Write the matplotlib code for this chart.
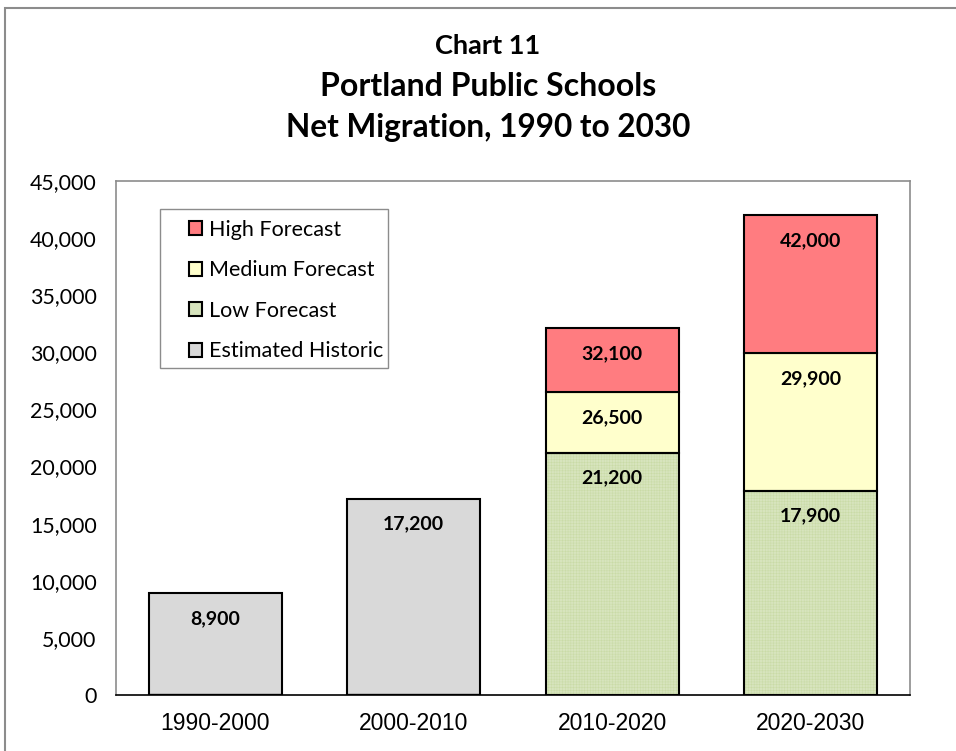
import matplotlib
matplotlib.use("Agg")
import matplotlib.pyplot as plt
from matplotlib.patches import Rectangle, Patch
import numpy as np

categories = ["1990-2000", "2000-2010", "2010-2020", "2020-2030"]
historic = [8900, 17200, 0, 0]
low_total = [0, 0, 21200, 17900]
medium_total = [0, 0, 26500, 29900]
high_total = [0, 0, 32100, 42000]
series_names = ["High Forecast", "Medium Forecast", "Low Forecast", "Estimated Historic"]
yticks = [0, 5000, 10000, 15000, 20000, 25000, 30000, 35000, 40000, 45000]

c_hist = "#D9D9D9"
c_low = "#D7E4BD"
c_med = "#FFFFCC"
c_high = "#FF7C80"

plt.rcParams['hatch.linewidth'] = 0.35

fig = plt.figure(figsize=(9.56, 7.51), dpi=100)
L, R, T, B = 116, 910, 181, 695
ax = fig.add_axes([L/956, 1-B/751, (R-L)/956, (B-T)/751])

x = np.arange(len(categories))
w = 0.67
low = np.array(low_total)
med = np.array(medium_total) - low
high = np.array(high_total) - np.array(medium_total)

ax.bar(x, historic, w, color=c_hist, edgecolor="black", linewidth=1.5, zorder=3)
# low forecast: fill with subtle texture, then black outline
ax.bar(x, low, w, color=c_low, edgecolor="#C9DBA6", hatch="++++++", linewidth=0, zorder=3)
ax.bar(x, low, w, fill=False, edgecolor="black", linewidth=1.5, zorder=3.5)
ax.bar(x, med, w, bottom=low, color=c_med, edgecolor="black", linewidth=1.5, zorder=3)
ax.bar(x, high, w, bottom=low + med, color=c_high, edgecolor="black", linewidth=1.5, zorder=3)

lab_font = dict(family="Lato", fontweight="bold", fontsize=14)

def label(xi, top, val):
    if val > 0:
        ax.annotate(f"{val:,}", (xi, top), xytext=(0, -18), textcoords="offset points",
                    ha="center", va="center", **lab_font, zorder=5)

for i in range(len(categories)):
    label(x[i], historic[i], historic[i])
    label(x[i], low_total[i], low_total[i])
    label(x[i], medium_total[i], medium_total[i])
    label(x[i], high_total[i], high_total[i])

ax.set_xlim(-0.5, 3.5)
ax.set_ylim(0, 45000)
ax.set_yticks(yticks)
ax.set_yticklabels([f"{v:,}" for v in yticks], family="Lato", fontsize=15.4)
ax.set_xticks(x)
ax.set_xticklabels(categories, family="Liberation Sans", fontsize=16.5)
ax.tick_params(axis="y", length=0, pad=14)
ax.tick_params(axis="x", length=0, pad=12)
for s in ["top", "right", "left"]:
    ax.spines[s].set_color("#8C8C8C")
    ax.spines[s].set_linewidth(1.2)
ax.spines["bottom"].set_color("black")
ax.spines["bottom"].set_linewidth(1.2)

# legend box drawn separately (pixel positions)
def px2ax(px, py):
    return ((px - L) / (R - L), (B - py) / (B - T))
x0, y0 = px2ax(160, 368)
x1, y1 = px2ax(388, 209)
ax.add_patch(Rectangle((x0, y0), x1 - x0, y1 - y0, transform=ax.transAxes, fill=True,
                       facecolor="white", edgecolor="#8C8C8C", linewidth=1.0, zorder=4))
handles = [Patch(facecolor=c, edgecolor="black", linewidth=1.5) for c in [c_high, c_med, c_low, c_hist]]
lx, ly = px2ax(189, 220)
leg = ax.legend(handles, series_names, loc="upper left", bbox_to_anchor=(lx, ly),
                frameon=False, prop=dict(family="Lato", size=15.5),
                handlelength=0.62, handleheight=0.62, handletextpad=0.3, labelspacing=0.95,
                borderpad=0, borderaxespad=0)
leg.set_zorder(6)

cx = 488 / 956
fig.text(cx, 1-46/751, "Chart 11", ha="center", va="center", family="Lato", fontweight="bold", fontsize=19.5)
fig.text(cx, 1-87/751, "Portland Public Schools", ha="center", va="center", family="Lato", fontweight="bold", fontsize=23)
fig.text(cx, 1-128/751, "Net Migration, 1990 to 2030", ha="center", va="center", family="Lato", fontweight="bold", fontsize=22.7)

fig.add_artist(Rectangle((5/956, -0.1), 1.1, 1 - 8/751 + 0.1, transform=fig.transFigure,
                         fill=False, edgecolor="#8C8C8C", linewidth=1.5))

fig.savefig("out.png", dpi=100)
